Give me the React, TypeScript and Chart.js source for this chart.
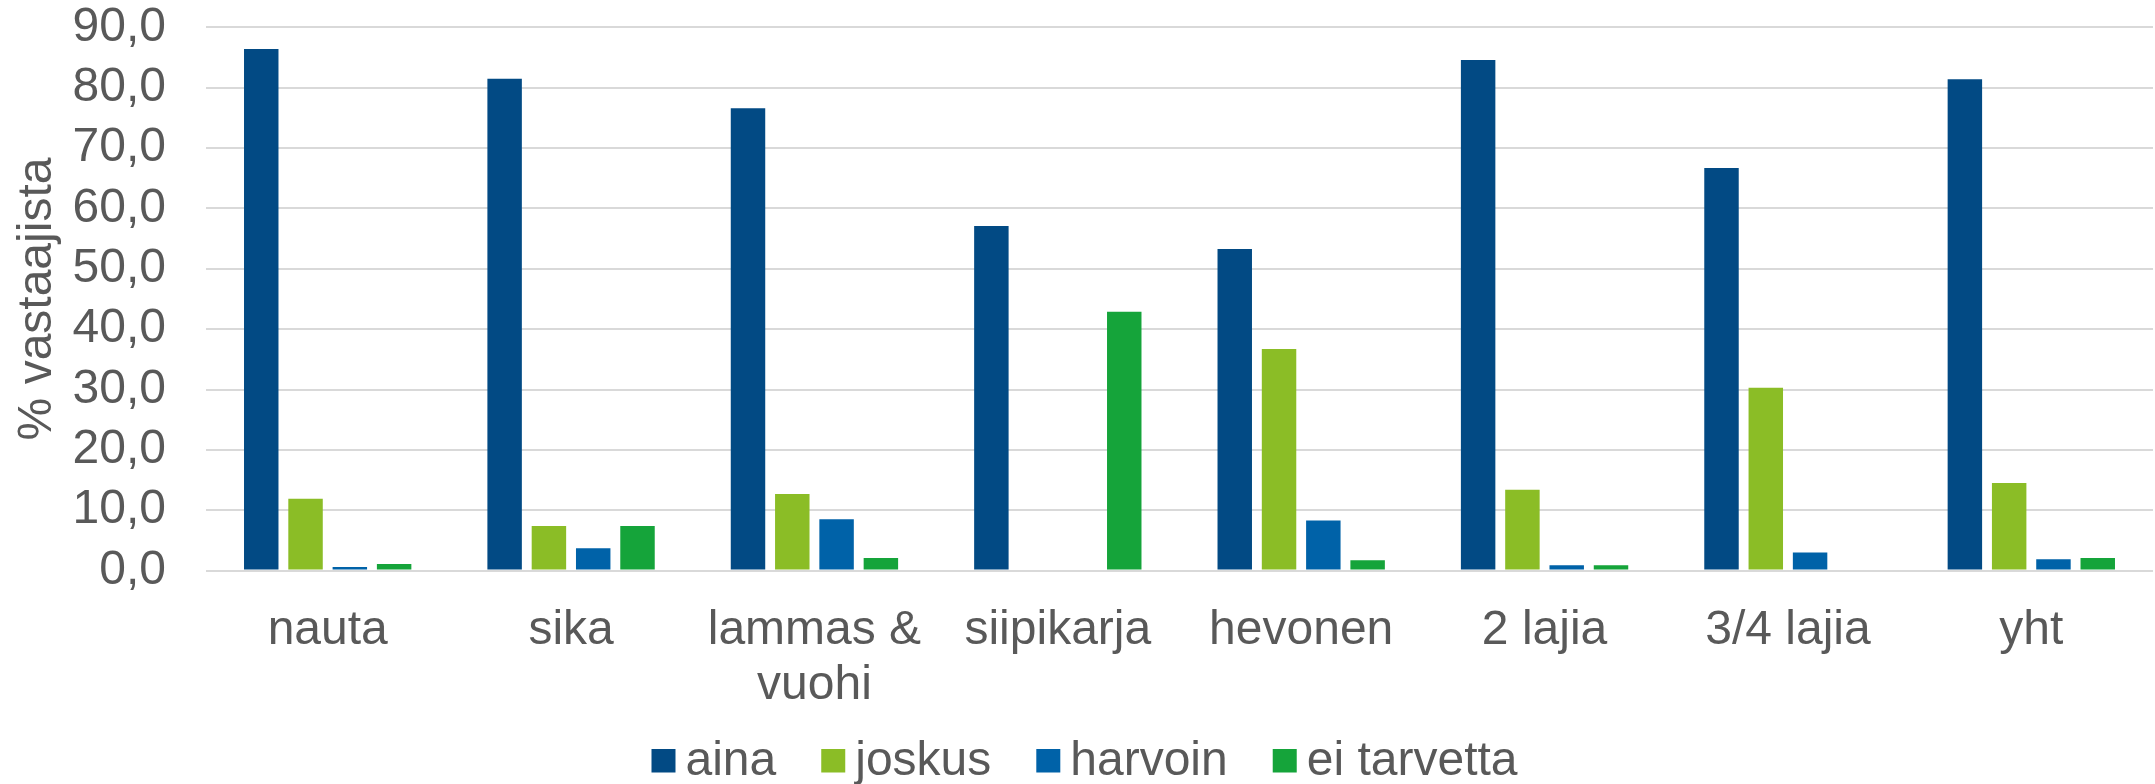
import React, { useEffect, useRef } from "react";
import { Chart, registerables } from "chart.js";

Chart.register(...registerables);

const categories: (string | string[])[] = [
  "nauta",
  "sika",
  ["lammas &", "vuohi"],
  "siipikarja",
  "hevonen",
  "2 lajia",
  "3/4 lajia",
  "yht",
];

const seriesNames = ["aina", "joskus", "harvoin", "ei tarvetta"];

const aina = [86.4, 81.5, 76.6, 57.1, 53.3, 84.6, 66.7, 81.4];
const joskus = [11.9, 7.4, 12.7, 0, 36.7, 13.4, 30.3, 14.5];
const harvoin = [0.6, 3.7, 8.5, 0, 8.3, 0.9, 3.0, 1.9];
const eiTarvetta = [1.1, 7.4, 2.1, 42.9, 1.7, 0.9, 0, 2.1];

const seriesColors = ["#024A84", "#8BBD26", "#0062A8", "#15A43A"];

const yMin = 0;
const yMax = 90;
const yStep = 10;
const yTitle = "% vastaajista";

const FONT = "'Liberation Sans', Arial, Helvetica, sans-serif";
const FS = 48;
const TEXT = "#595959";
const GRID = "#D9D9D9";

const legendPlugin = {
  id: "customLegend",
  afterDraw(chart: any) {
    const ctx = chart.ctx as CanvasRenderingContext2D;
    ctx.save();
    ctx.font = `${FS}px ${FONT}`;
    const box = 24;
    const gapBoxText = 10;
    const gapItem = 45;
    const items = chart.data.datasets.map((d: any) => ({
      text: d.label as string,
      color: d.backgroundColor as string,
      w: ctx.measureText(d.label).width,
    }));
    const total =
      items.reduce((s: number, it: any) => s + box + gapBoxText + it.w, 0) +
      gapItem * (items.length - 1);
    let x = chart.width / 2 + 7 - total / 2;
    const baseY = chart.height - 9;
    const boxTop = chart.height - 35;
    for (const it of items) {
      ctx.fillStyle = it.color;
      ctx.fillRect(x, boxTop, box, 23.5);
      ctx.fillStyle = TEXT;
      ctx.textAlign = "left";
      ctx.textBaseline = "alphabetic";
      ctx.fillText(it.text, x + box + gapBoxText, baseY);
      x += box + gapBoxText + it.w + gapItem;
    }
    ctx.restore();
  },
};

export default function App() {
  const ref = useRef<HTMLCanvasElement | null>(null);

  useEffect(() => {
    if (!ref.current) return;
    const values = [aina, joskus, harvoin, eiTarvetta];
    const chart = new Chart(ref.current, {
      type: "bar",
      data: {
        labels: categories as any,
        datasets: seriesNames.map((name, i) => ({
          label: name,
          data: values[i],
          backgroundColor: seriesColors[i],
          borderWidth: 0,
          categoryPercentage: 0.728,
          barPercentage: 0.778,
        })),
      },
      options: {
        animation: false,
        responsive: true,
        maintainAspectRatio: false,
        layout: { padding: { top: 0, right: 2, bottom: 75, left: 0 } },
        plugins: {
          legend: { display: false },
          tooltip: { enabled: false },
        },
        scales: {
          x: {
            grid: { display: false, drawTicks: false },
            border: { display: false },
            ticks: {
              font: { family: FONT, size: FS, lineHeight: 1.13 },
              color: TEXT,
              padding: 33.5,
              maxRotation: 0,
              minRotation: 0,
              autoSkip: false,
            },
            afterFit: (scale: any) => {
              scale.height = 138.4;
            },
          },
          y: {
            min: yMin,
            max: yMax,
            grid: {
              color: GRID,
              lineWidth: 2,
              drawTicks: true,
              tickLength: 40,
              tickColor: "rgba(0,0,0,0)",
            },
            border: { display: false },
            ticks: {
              stepSize: yStep,
              padding: 0,
              autoSkip: false,
              font: { family: FONT, size: FS, lineHeight: 1.14 },
              color: TEXT,
              callback: (v: any) => Number(v).toFixed(1).replace(".", ","),
            },
            title: {
              display: true,
              text: yTitle,
              font: { family: FONT, size: FS },
              color: TEXT,
              padding: { top: 9, bottom: 0 },
            },
            afterFit: (scale: any) => {
              scale.width = 206;
            },
          },
        },
      },
      plugins: [legendPlugin],
    });
    return () => chart.destroy();
  }, []);

  return (
    <div
      style={{
        position: "absolute",
        left: 0,
        top: 0,
        width: 2155,
        height: 784,
        background: "#ffffff",
      }}
    >
      <canvas ref={ref} />
    </div>
  );
}
